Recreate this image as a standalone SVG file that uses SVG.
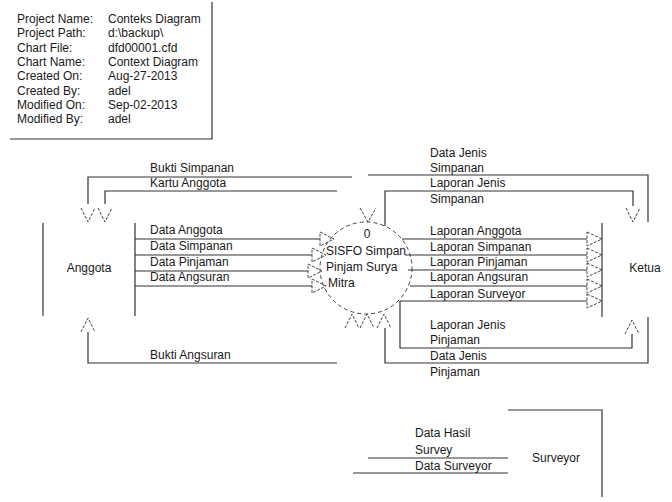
<svg xmlns="http://www.w3.org/2000/svg" width="672" height="502" viewBox="0 0 672 502">
<style>
text{font-family:"Liberation Sans",Arial,sans-serif;font-size:12px;fill:#1a1a1a}
.ln{fill:none;stroke:#333;stroke-width:1.2}
.ah{fill:none;stroke:#444;stroke-width:1;stroke-dasharray:3 1.5}
.mid{text-anchor:middle}
</style>
<rect width="672" height="502" fill="#fff"/>
<g id="info">
<path class="ln" d="M10,139 H212 V2"/>
<text x="17" y="23">Project Name:</text><text x="108" y="23">Conteks Diagram</text>
<text x="17" y="37">Project Path:</text><text x="108" y="37">d:\backup\</text>
<text x="17" y="52">Chart File:</text><text x="108" y="52">dfd00001.cfd</text>
<text x="17" y="66">Chart Name:</text><text x="108" y="66">Context Diagram</text>
<text x="17" y="80">Created On:</text><text x="108" y="80">Aug-27-2013</text>
<text x="17" y="95">Created By:</text><text x="108" y="95">adel</text>
<text x="17" y="109">Modified On:</text><text x="108" y="109">Sep-02-2013</text>
<text x="17" y="123">Modified By:</text><text x="108" y="123">adel</text>
</g>
<g id="anggota">
<path class="ln" d="M43,223 V316 M135,223 V316"/>
<text x="89" y="272" class="mid">Anggota</text>
</g>
<g id="process">
<circle cx="366" cy="268" r="46" fill="none" stroke="#444" stroke-width="1" stroke-dasharray="4 3"/>
<text x="367" y="238" class="mid">0</text>
<text x="326" y="255">SISFO Simpan</text>
<text x="326" y="271">Pinjam Surya</text>
<text x="328" y="287">Mitra</text>
</g>
<g id="ketua">
<path class="ln" d="M602,223 V317"/>
<text x="645" y="272" class="mid">Ketua</text>
</g>
<g id="surveyor">
<path class="ln" d="M508,410 H602 V497"/>
<text x="532" y="462">Surveyor</text>
</g>
<g id="connectors">
<path class="ln" d="M88,204 V177 H352 M105,204 V191 H337"/>
<path class="ln" d="M648,222 V175 H368 M385,226 V191 H633 V206"/>
<path class="ln" d="M135,239 H320 M135,255 H312 M135,271 H308 M135,286 H312"/>
<path class="ln" d="M402,239 H587 M405,255 H587 M408,270 H587 M410,286 H587 M400,301 H587"/>
<path class="ln" d="M400,301 V348 H632 V334 M648,317 V363 H385 V328 M88,332 V363 H337"/>
<path class="ln" d="M368,458 H508 M353,473 H508"/>
<path class="ah" d="M81,208 L88,222 L95,208 M98,208 L105,222 L112,208 M360,208 L368,222 L376,208 M626,208 L633,222 L640,208"/>
<path class="ah" d="M81,332 L88,318 L95,332 M625,334 L632,320 L639,334 M345,328 L352,314 L359,328 M360,328 L367,314 L374,328 M377,328 L384,314 L391,328"/>
<path class="ah" d="M320,232 L334,239 L320,246 Z M312,248 L326,255 L312,262 Z M308,264 L322,271 L308,278 Z M312,279 L326,286 L312,293 Z"/>
<path class="ah" d="M587,232 L602,239 L587,246 Z M587,248 L602,255 L587,262 Z M587,263 L602,270 L587,277 Z M587,279 L602,286 L587,293 Z M587,294 L602,301 L587,308 Z"/>
<text x="150" y="172">Bukti Simpanan</text>
<text x="150" y="187">Kartu Anggota</text>
<text x="150" y="234">Data Anggota</text>
<text x="150" y="250">Data Simpanan</text>
<text x="150" y="266">Data Pinjaman</text>
<text x="150" y="281">Data Angsuran</text>
<text x="150" y="359">Bukti Angsuran</text>
<text x="430" y="157">Data Jenis</text>
<text x="430" y="172">Simpanan</text>
<text x="430" y="187">Laporan Jenis</text>
<text x="430" y="203">Simpanan</text>
<text x="430" y="235">Laporan Anggota</text>
<text x="430" y="251">Laporan Simpanan</text>
<text x="430" y="266">Laporan Pinjaman</text>
<text x="430" y="281">Laporan Angsuran</text>
<text x="430" y="298">Laporan Surveyor</text>
<text x="430" y="329">Laporan Jenis</text>
<text x="430" y="344">Pinjaman</text>
<text x="430" y="360">Data Jenis</text>
<text x="430" y="376">Pinjaman</text>
<text x="415" y="437">Data Hasil</text>
<text x="415" y="454">Survey</text>
<text x="415" y="470">Data Surveyor</text>
</g>
</svg>
